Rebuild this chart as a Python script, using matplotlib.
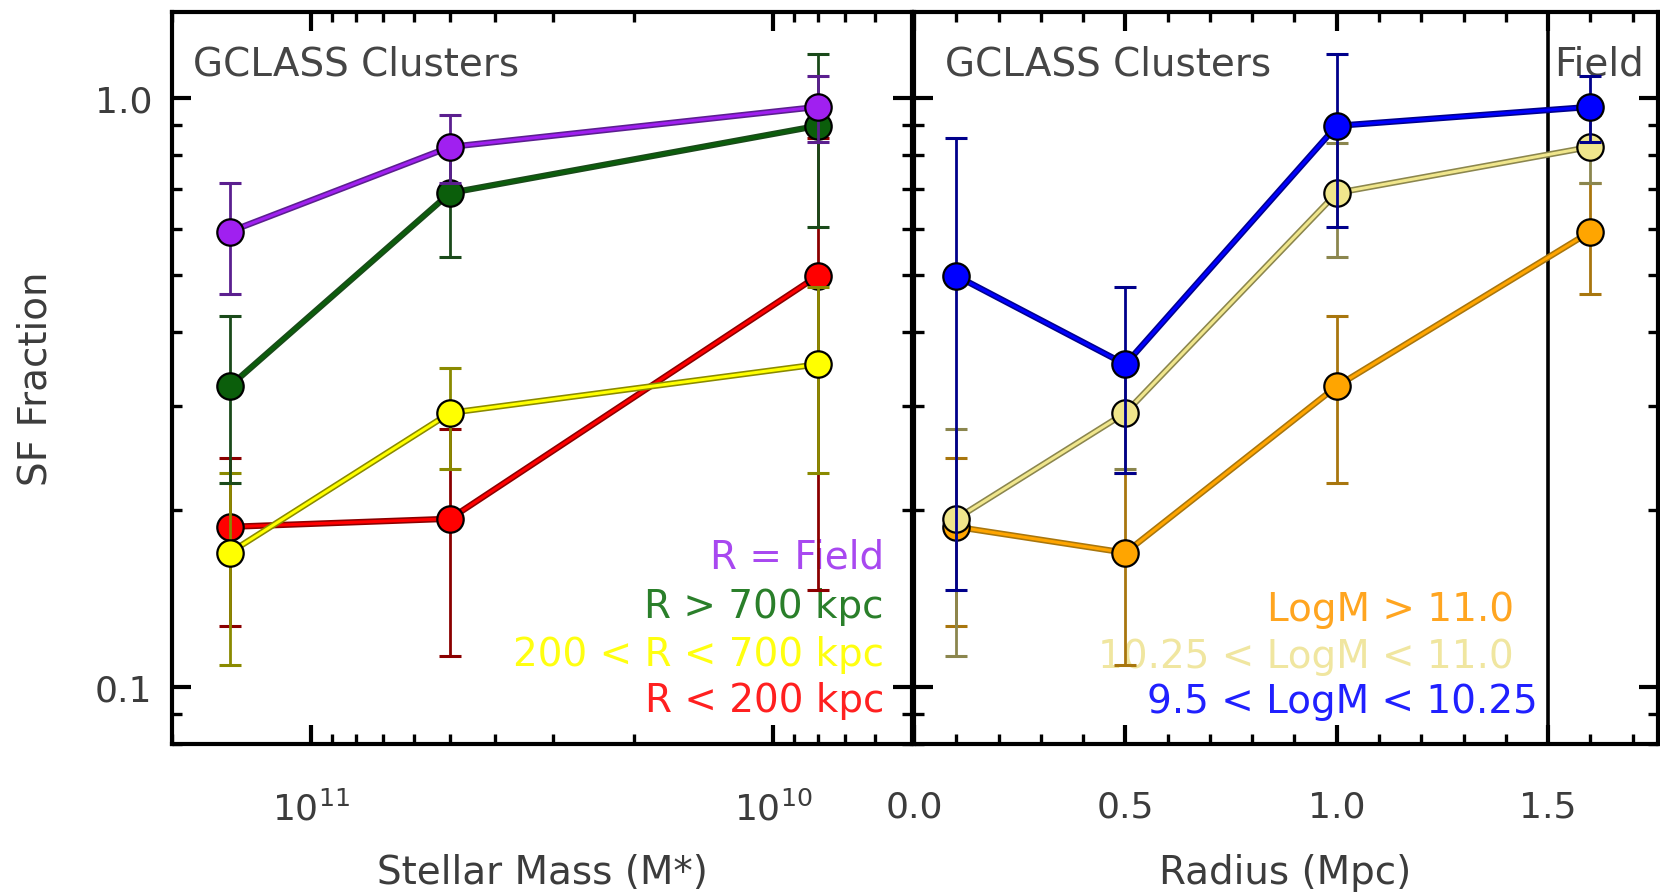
import numpy as np
import matplotlib
matplotlib.use("Agg")
import matplotlib.pyplot as plt
import matplotlib.patheffects as pe
from matplotlib.ticker import FixedLocator, LogLocator, MultipleLocator, NullFormatter, FixedFormatter

# the original text is a wide Helvetica; DejaVu Sans has about the same proportions
plt.rcParams['font.family'] = ['DejaVu Sans']
plt.rcParams['mathtext.fontset'] = 'dejavusans'

# bin centres
mass_centers = [1.5e11, 5e10, 8e9]          # high, mid, low mass bins
radius_centers = [0.1, 0.5, 1.0, 1.6]       # last one is the field

# SF fraction per radial bin (columns: high, mid, low mass)
sf_lt200 = [0.187, 0.193, 0.499]
sf_200_700 = [0.169, 0.292, 0.353]
sf_gt700 = [0.324, 0.690, 0.897]
sf_field = [0.593, 0.826, 0.966]

# lower / upper error limits
lo_lt200 = [0.127, 0.113, 0.146]
lo_200_700 = [0.109, 0.234, 0.231]
lo_gt700 = [0.222, 0.537, 0.605]
lo_field = [0.465, 0.718, 0.843]

hi_lt200 = [0.245, 0.274, 0.855]
hi_200_700 = [0.231, 0.348, 0.478]
hi_gt700 = [0.427, 0.840, 1.190]
hi_field = [0.718, 0.936, 1.090]

radial_labels = ["R < 200 kpc", "200 < R < 700 kpc", "R > 700 kpc", "R = Field"]
mass_labels = ["LogM > 11.0", "10.25 < LogM < 11.0", "9.5 < LogM < 10.25"]

sf_all = np.array([sf_lt200, sf_200_700, sf_gt700, sf_field])
lo_all = np.array([lo_lt200, lo_200_700, lo_gt700, lo_field])
hi_all = np.array([hi_lt200, hi_200_700, hi_gt700, hi_field])

# (face, dark edge/errorbar, text)
radial_colors = [("#FF0000", "#8B0000", "#FF2020"),
                 ("#FFFF00", "#8A8A00", "#FFFF10"),
                 ("#0B5E0B", "#1A4A1A", "#2A7F2A"),
                 ("#A020F0", "#5B1F8F", "#A848F0")]
mass_colors = [("#FFA500", "#A8760E", "#FFA520"),
               ("#F0E68C", "#8B864E", "#F0E6A0"),
               ("#0000FF", "#00008B", "#2020FF")]

GREY = "#3c3c3c"
FS = 28


def draw_series(ax, x, y, lo, hi, face, dark, z):
    yerr = np.array([np.array(y) - np.array(lo), np.array(hi) - np.array(y)])
    ax.errorbar(x, y, yerr=yerr, fmt="none", ecolor=dark, elinewidth=2.0,
                capsize=8, capthick=2.2, zorder=z)
    ax.plot(x, y, color=face, lw=2.2, zorder=z + 0.1,
            path_effects=[pe.Stroke(linewidth=4.5, foreground=dark), pe.Normal()])
    ax.plot(x, y, "o", ms=19, mfc=face, mec="black", mew=1.6, ls="none", zorder=z + 0.2)


fig = plt.figure(figsize=(16.6, 8.95), dpi=100)
ax1 = fig.add_axes([0.1036, 0.1676, 0.4458, 0.8179])
ax2 = fig.add_axes([0.5506, 0.1676, 0.4482, 0.8179])

# left: SF fraction vs stellar mass
for i in range(4):
    face, dark, _ = radial_colors[i]
    draw_series(ax1, mass_centers, sf_all[i], lo_all[i], hi_all[i], face, dark, 3 + i)

ax1.set_xscale("log")
ax1.set_yscale("log")
ax1.set_xlim(2e11, 5e9)
ax1.set_ylim(0.08, 1.4)
ax1.xaxis.set_major_locator(FixedLocator([1e11, 1e10]))
ax1.xaxis.set_major_formatter(FixedFormatter([r"$10^{11}$", r"$10^{10}$"]))
ax1.xaxis.set_minor_locator(LogLocator(base=10, subs=np.arange(2, 10)))
ax1.xaxis.set_minor_formatter(NullFormatter())

# right: SF fraction vs radius
for j in range(3):
    face, dark, _ = mass_colors[j]
    draw_series(ax2, radius_centers, sf_all[:, j], lo_all[:, j], hi_all[:, j], face, dark, 3 + j)

ax2.axvline(1.5, color="black", lw=2.6, zorder=2)
ax2.set_yscale("log")
ax2.set_xlim(0, 1.76)
ax2.set_ylim(0.08, 1.4)
ax2.xaxis.set_major_locator(MultipleLocator(0.5))
ax2.xaxis.set_minor_locator(MultipleLocator(0.1))
ax2.xaxis.set_major_formatter(lambda v, p: f"{v:.1f}")

for ax in (ax1, ax2):
    ax.yaxis.set_major_locator(FixedLocator([0.1, 1.0]))
    ax.yaxis.set_minor_locator(LogLocator(base=10, subs=np.arange(2, 10)))
    ax.yaxis.set_minor_formatter(NullFormatter())
    ax.yaxis.set_major_formatter(FixedFormatter(["0.1", "1.0"]))
    ax.tick_params(which="both", direction="in", top=True, right=True, colors="black",
                   labelcolor=GREY, labelsize=26)
    ax.tick_params(which="major", length=14, width=3.0)
    ax.tick_params(which="minor", length=7, width=2.4)
    ax.tick_params(axis="x", pad=33)
    ax.tick_params(axis="y", pad=14)
    for s in ax.spines.values():
        s.set_linewidth(3.0)

ax2.tick_params(axis="y", labelleft=False)

ax1.text(0.028, 0.93, "GCLASS Clusters", transform=ax1.transAxes, fontsize=FS,
         color="#454545", va="center", ha="left")
ax2.text(0.042, 0.93, "GCLASS Clusters", transform=ax2.transAxes, fontsize=FS,
         color="#454545", va="center", ha="left")
ax2.text(0.86, 0.93, "Field", transform=ax2.transAxes, fontsize=FS,
         color="#454545", va="center", ha="left", zorder=1)

# in-panel labels
left_rows = [0.0601, 0.1230, 0.1885, 0.2555]
for i in range(4):
    ax1.text(0.962, left_rows[i], radial_labels[i], transform=ax1.transAxes, fontsize=FS,
             color=radial_colors[i][2], ha="right", va="center", zorder=1)

right_x = [0.806, 0.806, 0.839]
right_rows = [0.1844, 0.1202, 0.0587]
for j in range(3):
    ax2.text(right_x[j], right_rows[j], mass_labels[j], transform=ax2.transAxes, fontsize=FS,
             color=mass_colors[j][2], ha="right", va="center", zorder=1)

fig.text(0.0215, 0.5765, "SF Fraction", rotation=90, fontsize=FS, color=GREY,
         ha="center", va="center")
fig.text(0.3265, 0.0246, "Stellar Mass (M*)", fontsize=FS, color=GREY, ha="center", va="center")
fig.text(0.774, 0.0246, "Radius (Mpc)", fontsize=FS, color=GREY, ha="center", va="center")

fig.savefig("out.png", dpi=100)
